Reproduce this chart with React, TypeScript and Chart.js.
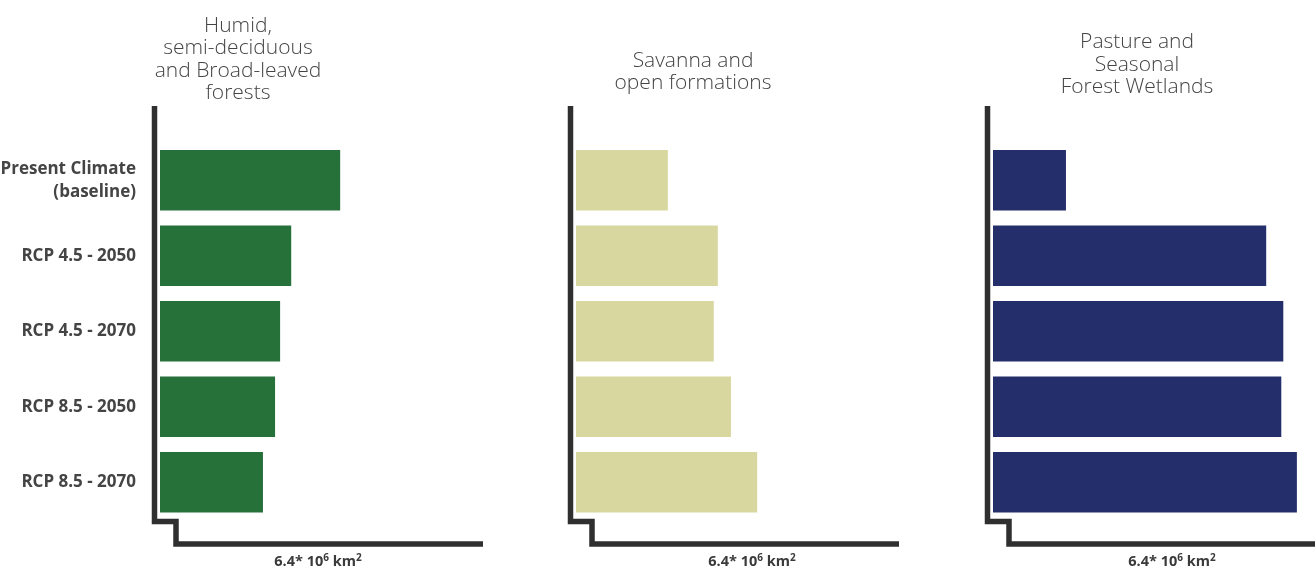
import React, { useEffect, useRef } from "react";
import { Chart, registerables } from "chart.js";

Chart.register(...registerables);

// ---- Data ----
const categories: (string | string[])[] = [
  ["Present Climate", "(baseline)"],
  "RCP 4.5 - 2050",
  "RCP 4.5 - 2070",
  "RCP 8.5 - 2050",
  "RCP 8.5 - 2070",
];
const humidForestValues = [3.57, 2.6, 2.38, 2.28, 2.04];
const savannaValues = [1.82, 2.81, 2.73, 3.07, 3.59];
const pastureWetlandValues = [1.45, 5.43, 5.77, 5.73, 6.04];
const humidTitle = ["Humid,", "semi-deciduous", "and Broad-leaved", "forests"];
const savannaTitle = ["Savanna and", "open formations"];
const pastureTitle = ["Pasture and", "Seasonal", "Forest Wetlands"];
const axisMax = 6.4;
const unitMain = "6.4* 10";
const unitExp1 = "6";
const unitKm = " km";
const unitExp2 = "2";

const FONT = "'Open Sans', 'Noto Sans', sans-serif";

type PanelProps = {
  left: number;
  width: number;
  values: number[];
  color: string;
  titleLines: string[];
  titleCenter: number;
  titleBaseline: number;
  showLabels: boolean;
  padLeft: number;
  padRight: number;
  footerCenter: number;
};

function Panel(p: PanelProps) {
  const ref = useRef<HTMLCanvasElement>(null);
  useEffect(() => {
    if (!ref.current) return;
    const framePlugin = {
      id: "frame",
      afterDraw(chart: any) {
        const ctx = chart.ctx as CanvasRenderingContext2D;
        const { left, right, top, bottom } = chart.chartArea;
        ctx.save();
        // stepped axis frame
        const ax = left - 5.5;
        ctx.strokeStyle = "#2f2f2f";
        ctx.lineWidth = 5.5;
        ctx.lineJoin = "miter";
        ctx.lineCap = "butt";
        ctx.beginPath();
        ctx.moveTo(ax, top - 36.5);
        ctx.lineTo(ax, bottom + 1.5);
        ctx.lineTo(ax + 21.5, bottom + 1.5);
        ctx.lineTo(ax + 21.5, bottom + 24);
        ctx.lineTo(right, bottom + 24);
        ctx.stroke();

        // title
        ctx.fillStyle = "#444444";
        ctx.textAlign = "center";
        ctx.textBaseline = "alphabetic";
        ctx.font = `300 21px ${FONT}`;
        const n = p.titleLines.length;
        const cx = p.titleCenter - p.left;
        p.titleLines.forEach((line, i) => {
          ctx.fillText(line, cx, p.titleBaseline - (n - 1 - i) * 22.5);
        });

        // footer unit label
        ctx.textAlign = "left";
        ctx.fillStyle = "#3a3a3a";
        const mainFont = `bold 14.5px ${FONT}`;
        const supFont = `bold 10px ${FONT}`;
        ctx.font = mainFont;
        const w1 = ctx.measureText(unitMain).width;
        const w3 = ctx.measureText(unitKm).width;
        ctx.font = supFont;
        const w2 = ctx.measureText(unitExp1).width;
        const w4 = ctx.measureText(unitExp2).width;
        const total = w1 + w2 + w3 + w4;
        let x = p.footerCenter - p.left - total / 2;
        const by = 566;
        ctx.font = mainFont;
        ctx.fillText(unitMain, x, by);
        x += w1;
        ctx.font = supFont;
        ctx.fillText(unitExp1, x, by - 5.5);
        x += w2;
        ctx.font = mainFont;
        ctx.fillText(unitKm, x, by);
        x += w3;
        ctx.font = supFont;
        ctx.fillText(unitExp2, x, by - 5.5);
        ctx.restore();
      },
    };

    const chart = new Chart(ref.current, {
      type: "bar",
      data: {
        labels: categories as any,
        datasets: [
          {
            data: p.values,
            backgroundColor: p.color,
            borderWidth: 0,
            barPercentage: 0.8,
            categoryPercentage: 1,
          },
        ],
      },
      options: {
        indexAxis: "y",
        animation: false,
        responsive: false,
        layout: {
          padding: { top: 142.5, bottom: 51, left: p.padLeft, right: p.padRight },
        },
        plugins: {
          legend: { display: false },
          tooltip: { enabled: false },
          title: { display: false },
        },
        scales: {
          x: { display: false, min: 0, max: axisMax },
          y: {
            display: p.showLabels,
            grid: { display: false, drawTicks: false },
            border: { display: false },
            ticks: {
              color: "#444444",
              padding: 24,
              font: { family: FONT, size: 17, weight: "bold", lineHeight: 1.35 },
            },
            afterFit: (s: any) => {
              if (p.showLabels) s.width = 160;
            },
          },
        },
      } as any,
      plugins: [framePlugin],
    });
    return () => chart.destroy();
  }, []);
  return (
    <canvas
      ref={ref}
      width={p.width}
      height={571}
      style={{ position: "absolute", left: p.left, top: 0 }}
    />
  );
}

export default function App() {
  return (
    <div
      style={{
        position: "absolute",
        left: 0,
        top: 0,
        width: 1315,
        height: 571,
        background: "#ffffff",
        overflow: "hidden",
      }}
    >
      <Panel
        left={0}
        width={490}
        values={humidForestValues}
        color="#26703a"
        titleLines={humidTitle}
        titleCenter={238}
        titleBaseline={99}
        showLabels={true}
        padLeft={0}
        padRight={7}
        footerCenter={318}
      />
      <Panel
        left={490}
        width={420}
        values={savannaValues}
        color="#d8d79f"
        titleLines={savannaTitle}
        titleCenter={693}
        titleBaseline={89}
        showLabels={false}
        padLeft={86}
        padRight={11}
        footerCenter={752}
      />
      <Panel
        left={910}
        width={405}
        values={pastureWetlandValues}
        color="#232e6a"
        titleLines={pastureTitle}
        titleCenter={1137}
        titleBaseline={93}
        showLabels={false}
        padLeft={83}
        padRight={0}
        footerCenter={1172}
      />
    </div>
  );
}
